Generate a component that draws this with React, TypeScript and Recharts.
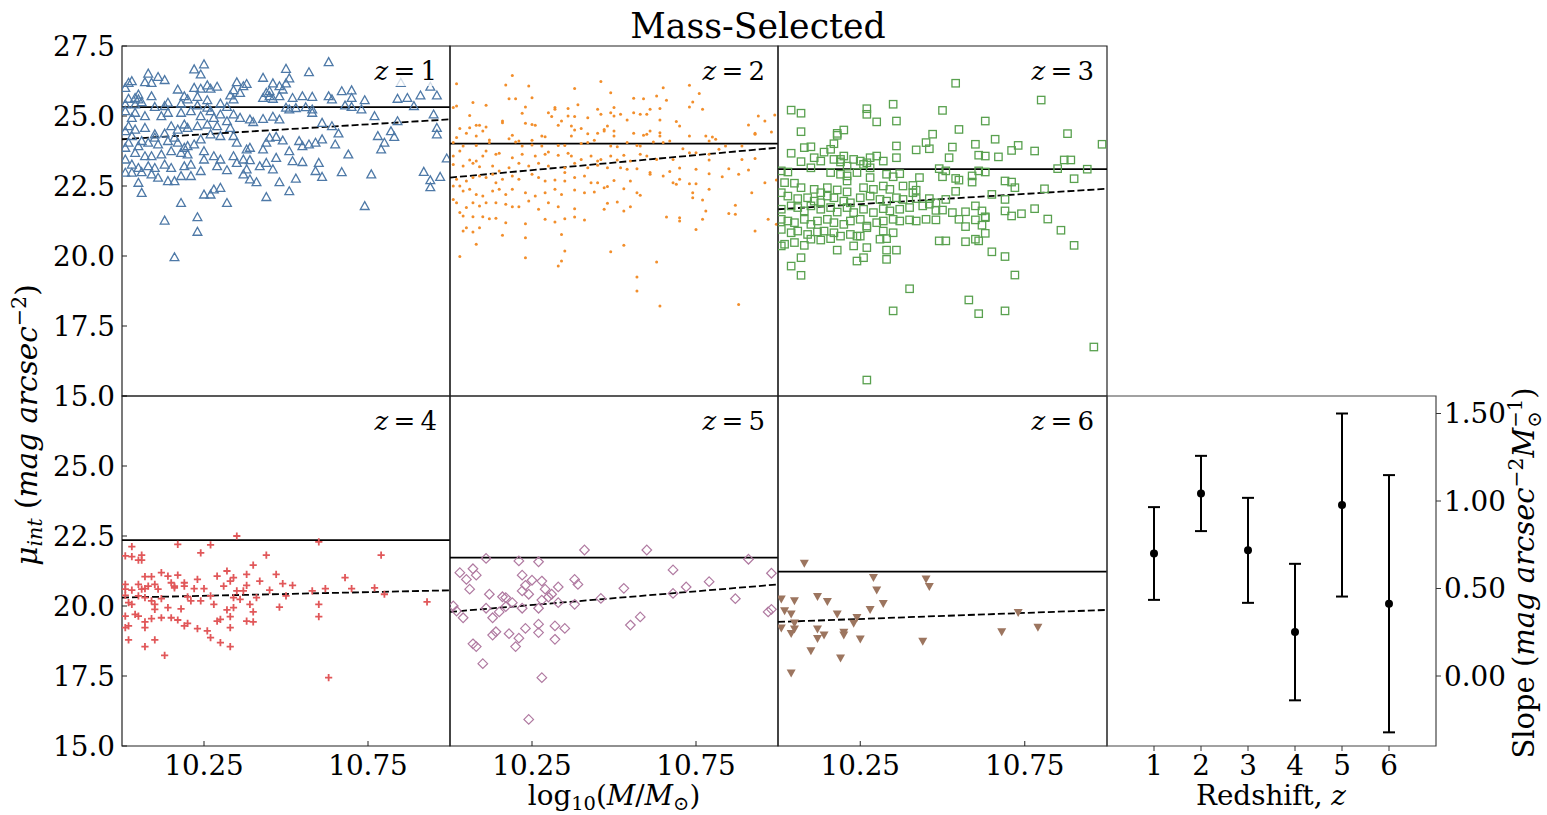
import React from "react";
import {
  ScatterChart,
  Scatter,
  XAxis,
  YAxis,
  ReferenceLine,
  ReferenceArea,
  ErrorBar,
} from "recharts";

const FONT = "'DejaVu Serif', serif";

// [log10(M/Msun), mu_int] per redshift bin
const z1Points = [
  [10.25,26.85],[10.63,26.93],[10.22,26.67],[10.24,26.49],[10.50,26.69],[10.57,26.57],[10.08,26.52],[10.11,26.40],[10.13,26.29],[10.43,26.37],
  [10.51,26.35],[10.07,26.21],[10.09,26.19],[10.03,26.25],[10.02,26.19],[10.35,26.21],[10.38,26.15],[10.37,26.07],[10.46,26.17],[10.48,26.07],
  [10.50,26.17],[10.85,26.19],[10.94,26.05],[10.01,26.01],[10.17,25.95],[10.22,26.01],[10.24,25.98],[10.26,26.10],[10.29,26.05],[10.27,25.98],
  [10.34,25.93],[10.36,25.83],[10.44,25.83],[10.45,25.89],[10.49,25.95],[10.67,25.89],[10.70,25.92],[10.09,25.71],[10.05,25.77],[10.04,25.65],
  [10.02,25.62],[10.05,25.60],[10.19,25.71],[10.23,25.69],[10.26,25.57],[10.20,25.60],[10.33,25.74],[10.34,25.60],[10.43,25.65],[10.45,25.71],
  [10.46,25.62],[10.48,25.71],[10.52,25.65],[10.55,25.71],[10.58,25.69],[10.63,25.71],[10.64,25.60],[10.70,25.65],[10.74,25.57],[10.84,25.62],
  [10.87,25.65],[10.91,25.74],[10.96,25.74],[10.01,25.42],[10.04,25.42],[10.06,25.50],[10.14,25.48],[10.13,25.36],[10.10,25.33],[10.18,25.45],
  [10.23,25.38],[10.26,25.30],[10.30,25.45],[10.32,25.33],[10.50,25.30],[10.51,25.24],[10.53,25.29],[10.56,25.32],[10.58,25.24],[10.68,25.38],
  [10.70,25.33],[10.73,25.24],[10.89,25.36],[10.01,25.18],[10.04,25.12],[10.07,25.00],[10.03,24.94],[10.12,25.00],[10.14,25.12],[10.18,25.12],
  [10.21,25.18],[10.24,25.00],[10.27,25.18],[10.28,24.94],[10.30,25.06],[10.34,25.06],[10.36,24.94],[10.39,24.88],[10.40,24.79],[10.43,24.90],
  [10.46,24.98],[10.48,24.88],[10.58,25.12],[10.61,24.76],[10.64,24.64],[10.66,24.38],[10.77,25.00],[10.84,24.82],[10.95,25.06],[10.96,24.58],
  [10.96,24.35],[10.82,24.46],[10.83,24.26],[10.80,24.05],[10.79,23.81],[10.78,24.29],[10.02,24.64],[10.04,24.52],[10.07,24.58],[10.10,24.35],
  [10.13,24.38],[10.15,24.64],[10.17,24.52],[10.19,24.70],[10.20,24.58],[10.23,24.64],[10.26,24.70],[10.29,24.64],[10.33,24.58],[10.34,24.29],
  [10.35,24.05],[10.24,24.17],[10.22,23.99],[10.20,23.93],[10.17,24.05],[10.14,24.11],[10.11,23.99],[10.08,24.05],[10.05,23.93],[10.02,24.05],
  [10.01,23.87],[10.04,23.69],[10.07,23.57],[10.09,23.57],[10.12,23.63],[10.15,23.75],[10.18,23.69],[10.20,23.63],[10.25,23.75],[10.28,23.57],
  [10.30,23.45],[10.34,23.57],[10.37,23.45],[10.39,23.87],[10.38,23.81],[10.43,23.81],[10.44,24.05],[10.45,24.23],[10.47,24.26],[10.49,24.13],
  [10.51,23.75],[10.54,24.11],[10.55,23.93],[10.57,23.99],[10.59,24.05],[10.61,24.17],[10.65,23.99],[10.69,23.63],[10.52,23.39],[10.55,23.36],
  [10.60,23.33],[10.59,23.04],[10.61,22.83],[10.67,23.00],[10.76,22.92],[10.92,23.01],[10.94,22.71],[10.94,22.46],[10.97,22.83],[10.99,23.49],
  [10.01,23.45],[10.03,23.27],[10.05,23.15],[10.08,23.21],[10.10,23.15],[10.13,23.27],[10.15,23.15],[10.19,23.21],[10.21,23.27],[10.24,23.04],
  [10.25,23.45],[10.29,23.21],[10.32,23.07],[10.35,23.33],[10.39,23.43],[10.38,23.10],[10.37,22.92],[10.42,23.21],[10.44,23.33],[10.46,23.10],
  [10.47,23.51],[10.01,22.98],[10.03,22.98],[10.06,23.00],[10.09,22.92],[10.11,22.80],[10.14,22.68],[10.16,22.68],[10.18,22.86],[10.21,22.86],
  [10.39,22.74],[10.41,22.64],[10.48,22.64],[10.53,22.77],[10.05,22.62],[10.06,22.26],[10.25,22.20],[10.27,22.20],[10.28,22.38],[10.30,22.44],
  [10.32,21.90],[10.44,22.11],[10.51,22.32],[10.74,21.79],[10.18,21.90],[10.13,21.27],[10.23,21.39],[10.23,20.87],[10.16,19.96],[10.01,24.46],
  [10.03,24.29],[10.06,24.11],[10.10,24.23],[10.16,24.23],[10.19,23.87],[10.27,24.35],[10.30,24.29],[10.32,24.82],
];

const z2Points = [
  [10.19,26.45],[10.17,26.11],[10.02,26.15],[10.46,26.23],[10.24,26.07],[10.38,25.98],[10.65,26.01],[10.73,26.10],[10.49,25.83],[10.56,25.63],
  [10.59,25.62],[10.63,25.71],[10.66,25.56],[10.76,25.80],[10.18,25.62],[10.20,25.62],[10.25,25.65],[10.07,25.48],[10.11,25.38],[10.02,25.36],
  [10.32,25.30],[10.32,25.24],[10.36,25.27],[10.39,25.40],[10.45,25.24],[10.50,25.30],[10.73,25.32],[10.74,25.50],[10.64,25.27],[10.77,25.24],
  [10.61,25.24],[10.23,25.32],[10.22,25.10],[10.06,25.02],[10.30,25.12],[10.31,24.98],[10.36,25.00],[10.38,24.98],[10.42,24.94],[10.46,25.06],
  [10.49,25.12],[10.50,25.00],[10.52,25.06],[10.54,24.86],[10.56,25.12],[10.58,25.06],[10.60,25.06],[10.64,24.86],[10.69,24.80],[10.94,25.00],
  [10.96,24.82],[10.99,25.04],[10.91,24.68],[10.16,24.82],[10.16,24.76],[10.23,24.74],[10.25,24.70],[10.26,24.67],[10.09,24.67],[10.08,24.67],
  [10.06,24.58],[10.03,24.55],[10.01,25.30],[10.11,24.61],[10.10,24.46],[10.05,24.38],[10.08,24.29],[10.02,24.23],[10.12,24.14],[10.18,24.19],
  [10.19,24.31],[10.21,24.11],[10.25,24.13],[10.28,24.29],[10.29,24.26],[10.33,24.67],[10.34,24.82],[10.37,24.64],[10.38,24.50],[10.40,24.55],
  [10.42,24.37],[10.45,24.38],[10.47,24.52],[10.47,24.46],[10.48,24.64],[10.50,24.46],[10.50,24.29],[10.56,24.38],[10.59,24.31],[10.60,24.35],
  [10.61,24.46],[10.64,24.40],[10.64,24.29],[10.67,24.11],[10.70,24.64],[10.73,24.29],[10.78,24.29],[10.79,24.11],[10.80,24.25],[10.81,24.17],
  [10.93,24.35],[10.93,24.38],[10.98,24.43],[10.01,24.05],[10.04,23.93],[10.08,23.95],[10.12,24.05],[10.20,24.07],[10.22,23.93],[10.25,23.96],
  [10.28,23.93],[10.33,23.95],[10.35,23.95],[10.37,24.29],[10.40,24.02],[10.42,24.05],[10.44,24.13],[10.49,23.93],[10.51,23.90],[10.54,24.05],
  [10.57,23.95],[10.58,23.93],[10.62,24.07],[10.65,24.05],[10.71,23.83],[10.73,23.69],[10.75,23.69],[10.79,23.63],[10.82,23.81],[10.84,23.93],
  [10.89,23.93],[10.01,23.57],[10.03,23.75],[10.06,23.43],[10.08,23.39],[10.10,23.57],[10.11,23.75],[10.14,23.63],[10.15,23.67],[10.19,23.51],
  [10.22,23.63],[10.26,23.57],[10.29,23.63],[10.30,23.71],[10.33,23.60],[10.36,23.67],[10.37,23.57],[10.40,23.45],[10.43,23.57],[10.45,23.39],
  [10.46,23.45],[10.49,23.57],[10.51,23.43],[10.53,23.60],[10.55,23.39],[10.58,23.63],[10.60,23.57],[10.63,23.45],[10.68,23.45],[10.79,23.43],
  [10.89,23.45],[10.93,23.48],[10.01,23.27],[10.04,23.21],[10.07,23.31],[10.09,23.19],[10.13,23.21],[10.15,23.04],[10.18,23.15],[10.21,23.31],
  [10.24,23.21],[10.27,23.31],[10.30,23.21],[10.35,23.15],[10.38,23.31],[10.42,23.15],[10.45,23.24],[10.48,23.15],[10.52,23.15],[10.54,23.10],
  [10.57,23.12],[10.61,22.98],[10.67,23.02],[10.70,23.14],[10.75,23.10],[10.79,22.94],[10.83,22.83],[10.85,23.12],[10.88,22.92],[10.91,23.07],
  [10.995,22.71],[10.96,22.62],[10.02,22.74],[10.03,22.50],[10.05,22.68],[10.07,22.80],[10.09,22.86],[10.11,22.80],[10.13,22.92],[10.14,22.62],
  [10.16,22.74],[10.19,22.86],[10.21,22.74],[10.25,22.92],[10.27,22.80],[10.29,22.68],[10.32,22.71],[10.35,22.68],[10.35,22.98],[10.38,22.80],
  [10.41,22.86],[10.43,22.62],[10.45,22.62],[10.50,22.70],[10.53,22.40],[10.55,22.68],[10.61,22.92],[10.65,22.86],[10.68,22.62],[10.69,22.56],
  [10.70,22.74],[10.73,22.58],[10.75,22.58],[10.79,22.38],[10.92,22.26],[10.01,22.50],[10.04,22.32],[10.06,22.38],[10.08,22.20],[10.10,22.14],
  [10.13,22.32],[10.15,22.38],[10.17,22.20],[10.19,22.38],[10.23,22.26],[10.26,22.14],[10.29,22.26],[10.32,22.38],[10.34,22.20],[10.38,22.36],
  [10.41,22.26],[10.44,22.29],[10.47,22.44],[10.48,22.48],[10.57,22.26],[10.58,22.17],[10.74,22.08],[10.77,22.00],[10.01,22.02],[10.02,21.90],
  [10.05,21.73],[10.07,21.90],[10.09,21.79],[10.11,21.90],[10.14,21.90],[10.17,21.85],[10.19,21.76],[10.21,21.76],[10.24,21.96],[10.27,21.67],
  [10.30,21.90],[10.33,21.76],[10.38,21.69],[10.47,21.67],[10.51,21.93],[10.48,21.88],[10.53,21.61],[10.55,21.76],[10.74,22.26],[10.78,21.61],
  [10.87,21.81],[10.85,21.52],[10.87,21.49],[10.03,21.55],[10.04,21.43],[10.07,21.40],[10.10,21.40],[10.12,21.33],[10.14,21.35],[10.17,21.19],
  [10.23,21.15],[10.29,21.31],[10.32,21.21],[10.35,21.33],[10.38,21.39],[10.41,21.29],[10.66,21.39],[10.70,21.37],[10.70,21.25],[10.77,21.31],
  [10.97,21.31],[10.995,21.13],[10.04,20.89],[10.05,21.01],[10.07,20.86],[10.09,21.01],[10.16,20.74],[10.23,20.65],[10.34,20.77],[10.75,20.95],
  [10.93,20.89],[10.08,20.42],[10.03,19.98],[10.23,19.94],[10.35,20.18],[10.34,19.82],[10.33,19.64],[10.49,20.15],[10.53,20.38],[10.57,19.25],
  [10.57,18.75],[10.63,19.79],[10.64,18.21],[10.88,18.27],
];

const z3Points = [
  [10.54,26.17],[10.80,25.57],[10.04,25.21],[10.07,25.10],[10.27,25.26],[10.27,25.06],[10.35,25.42],[10.50,25.20],[10.30,24.79],[10.36,24.82],
  [10.63,24.82],[10.07,24.44],[10.18,24.38],[10.20,24.50],[10.18,24.31],[10.55,24.52],[10.47,24.35],[10.88,24.37],[10.66,24.17],[10.45,24.05],
  [10.60,23.99],[10.53,23.89],[10.36,23.93],[10.17,24.01],[10.16,23.81],[10.14,23.71],[10.10,23.90],[10.08,23.87],[10.73,23.95],[10.71,23.77],
  [10.42,23.79],[10.46,23.83],[10.985,23.99],[10.78,23.75],[10.04,23.67],[10.07,23.37],[10.13,23.39],[10.11,23.51],[10.17,23.45],[10.19,23.45],
  [10.20,23.57],[10.23,23.45],[10.25,23.39],[10.27,23.33],[10.30,23.57],[10.28,23.51],[10.32,23.39],[10.36,23.51],[10.52,23.51],[10.61,23.60],
  [10.63,23.57],[10.67,23.54],[10.87,23.43],[10.89,23.43],[10.01,23.04],[10.03,23.00],[10.10,23.15],[10.19,23.36],[10.21,23.21],[10.26,23.27],
  [10.28,23.15],[10.16,22.98],[10.19,22.92],[10.21,22.86],[10.21,22.68],[10.24,22.98],[10.28,22.80],[10.33,22.92],[10.35,22.83],[10.37,22.94],
  [10.49,23.12],[10.50,22.83],[10.51,23.04],[10.54,22.77],[10.55,22.71],[10.59,22.86],[10.59,22.64],[10.61,23.04],[10.63,23.00],[10.69,22.68],
  [10.71,22.64],[10.72,22.44],[10.81,22.40],[10.85,23.12],[10.94,23.10],[10.90,22.76],[10.43,22.80],[10.41,22.52],[10.42,22.35],[10.54,22.31],
  [10.65,22.20],[10.69,22.02],[10.02,22.62],[10.05,22.60],[10.07,22.44],[10.11,22.38],[10.13,22.26],[10.15,22.44],[10.18,22.36],[10.21,22.29],
  [10.26,22.44],[10.29,22.38],[10.32,22.50],[10.34,22.38],[10.38,22.50],[10.41,22.26],[10.01,22.26],[10.03,22.14],[10.06,22.05],[10.09,22.08],
  [10.11,21.96],[10.13,21.90],[10.15,22.14],[10.17,22.08],[10.20,21.96],[10.22,21.90],[10.25,22.08],[10.28,22.14],[10.31,22.02],[10.33,21.96],
  [10.36,22.08],[10.38,22.02],[10.42,22.05],[10.46,22.05],[10.46,21.85],[10.48,21.90],[10.51,22.02],[10.01,21.67],[10.04,21.79],[10.06,21.73],
  [10.08,21.61],[10.10,21.79],[10.13,21.67],[10.16,21.73],[10.18,21.57],[10.21,21.73],[10.23,21.55],[10.26,21.67],[10.29,21.55],[10.32,21.69],
  [10.34,21.61],[10.37,21.67],[10.40,21.73],[10.44,21.79],[10.48,21.63],[10.50,21.64],[10.53,21.55],[10.57,21.58],[10.60,21.79],[10.62,21.61],
  [10.63,21.40],[10.69,21.61],[10.71,21.43],[10.74,21.51],[10.78,21.69],[10.82,21.32],[10.86,20.92],[10.90,20.38],[10.01,21.31],[10.03,21.25],
  [10.05,21.19],[10.08,21.31],[10.10,21.13],[10.12,21.25],[10.15,21.31],[10.17,21.19],[10.20,21.13],[10.22,21.25],[10.25,21.31],[10.27,21.07],
  [10.30,21.19],[10.32,21.25],[10.35,21.31],[10.37,21.25],[10.40,21.29],[10.42,21.25],[10.45,21.31],[10.48,21.29],[10.55,21.31],[10.57,21.05],
  [10.60,21.29],[10.63,21.37],[10.62,21.10],[10.01,20.95],[10.04,20.83],[10.06,20.89],[10.09,20.77],[10.12,20.86],[10.14,20.89],[10.17,20.83],
  [10.19,20.71],[10.22,20.77],[10.24,20.71],[10.27,21.01],[10.32,20.89],[10.35,20.83],[10.01,20.36],[10.02,20.42],[10.05,20.48],[10.08,20.38],
  [10.10,20.60],[10.13,20.57],[10.16,20.62],[10.18,20.21],[10.23,20.36],[10.25,20.71],[10.27,20.30],[10.31,20.60],[10.33,20.62],[10.36,20.21],
  [10.33,20.21],[10.49,20.54],[10.51,20.54],[10.57,20.51],[10.60,20.60],[10.61,20.54],[10.63,20.81],[10.65,20.15],[10.69,19.98],[10.72,19.32],
  [10.04,19.64],[10.07,19.94],[10.24,19.82],[10.26,19.94],[10.33,19.88],[10.07,19.31],[10.40,18.83],[10.58,18.43],[10.61,17.94],[10.69,18.04],
  [10.35,18.04],[10.96,16.75],[10.27,15.57],
];

const z4Points = [
  [10.35,22.50],[10.60,22.29],[10.17,22.20],[10.27,22.18],[10.03,22.12],[10.24,21.90],[10.44,21.82],[10.79,21.82],[10.01,21.79],[10.03,21.76],
  [10.06,21.82],[10.05,21.64],[10.06,21.64],[10.40,21.46],[10.12,21.19],[10.32,21.25],[10.29,21.07],[10.38,21.13],[10.47,21.13],[10.07,21.05],
  [10.09,21.05],[10.14,21.07],[10.17,21.10],[10.23,20.95],[10.34,21.01],[10.68,21.01],[10.42,20.89],[10.01,20.77],[10.05,20.77],[10.08,20.71],
  [10.10,20.77],[10.15,20.83],[10.16,20.71],[10.19,20.83],[10.19,20.71],[10.31,20.71],[10.33,20.89],[10.38,20.74],[10.49,20.80],[10.52,20.74],
  [10.01,20.60],[10.03,20.57],[10.06,20.60],[10.07,20.62],[10.11,20.60],[10.16,20.65],[10.22,20.62],[10.25,20.62],[10.35,20.54],[10.37,20.54],
  [10.45,20.57],[10.58,20.54],[10.62,20.62],[10.70,20.62],[10.77,20.65],[10.01,20.38],[10.05,20.36],[10.07,20.30],[10.09,20.18],[10.12,20.26],
  [10.20,20.33],[10.21,20.18],[10.24,20.18],[10.27,20.36],[10.34,20.30],[10.36,20.24],[10.41,20.30],[10.50,20.36],[10.80,20.42],[10.93,20.15],
  [10.02,20.12],[10.03,20.06],[10.10,20.06],[10.10,19.88],[10.14,19.94],[10.18,19.90],[10.28,20.06],[10.32,19.86],[10.34,19.94],[10.39,20.06],
  [10.40,19.79],[10.48,19.96],[10.60,20.06],[10.01,19.64],[10.04,19.70],[10.05,19.64],[10.07,19.43],[10.09,19.55],[10.12,19.58],[10.15,19.58],
  [10.17,19.50],[10.19,19.29],[10.20,19.38],[10.23,19.19],[10.29,19.46],[10.30,19.52],[10.33,19.62],[10.33,19.23],[10.38,19.46],[10.40,19.43],
  [10.60,19.62],[10.01,19.23],[10.02,19.29],[10.07,19.23],[10.26,19.11],[10.27,18.87],[10.02,18.79],[10.10,18.79],[10.30,18.69],[10.33,18.55],
  [10.07,18.55],[10.13,18.24],[10.63,17.44],
];

const z5Points = [
  [10.41,22.00],[10.60,22.00],[10.11,21.70],[10.21,21.61],[10.27,21.58],[10.91,21.67],[10.03,21.19],[10.07,21.33],[10.08,21.10],[10.05,20.95],
  [10.22,21.10],[10.25,20.92],[10.28,20.89],[10.68,21.29],[10.98,21.17],[10.79,20.87],[10.38,20.95],[10.39,20.77],[10.06,20.60],[10.23,20.74],
  [10.22,20.54],[10.24,20.42],[10.29,20.60],[10.33,20.68],[10.31,20.42],[10.30,20.32],[10.53,20.63],[10.72,20.68],[10.12,20.42],[10.16,20.33],
  [10.17,20.30],[10.19,20.12],[10.17,19.98],[10.28,20.21],[10.33,20.12],[10.46,20.27],[10.38,20.06],[10.68,20.45],[10.87,20.26],[10.01,20.00],
  [10.02,19.82],[10.04,19.58],[10.11,19.92],[10.15,19.79],[10.22,19.92],[10.27,19.92],[10.13,19.58],[10.97,19.79],[10.98,19.88],[10.27,19.35],
  [10.23,19.20],[10.27,19.05],[10.32,19.29],[10.35,19.20],[10.14,19.08],[10.13,18.96],[10.18,19.01],[10.21,18.85],[10.32,18.81],[10.55,19.32],
  [10.58,19.61],[10.07,18.65],[10.08,18.55],[10.20,18.55],[10.10,17.94],[10.28,17.44],[10.24,15.95],
];

const z6Points = [
  [10.08,21.52],[10.29,21.01],[10.45,20.95],[10.46,20.69],[10.30,20.56],[10.01,20.24],[10.05,20.18],[10.12,20.33],[10.15,20.15],[10.32,20.08],
  [10.02,19.82],[10.04,19.70],[10.28,19.86],[10.18,19.70],[10.24,19.58],[10.23,19.37],[10.73,19.76],[10.05,19.38],[10.01,19.20],[10.05,19.17],
  [10.04,19.01],[10.12,19.17],[10.14,18.95],[10.12,18.83],[10.20,19.05],[10.20,18.95],[10.25,18.81],[10.68,19.07],[10.79,19.23],[10.44,18.73],
  [10.10,18.39],[10.19,18.13],[10.04,17.60],
];

// per-bin mean (solid) and linear fit ends at log M = 10 and 11 (dashed)
const meanMu = [25.32, 24.01, 23.1, 22.35, 21.73, 21.23];
const fitAt10 = [24.17, 22.8, 21.67, 20.3, 19.79, 19.43];
const fitAt11 = [24.88, 23.87, 22.4, 20.56, 20.77, 19.86];

// slope vs redshift
const redshifts = [1, 2, 3, 4, 5, 6];
const slopes = [0.7, 1.043, 0.718, 0.251, 0.977, 0.413];
const slopeErrs = [0.265, 0.215, 0.3, 0.39, 0.523, 0.735];

const massTicks = [10.25, 10.75];
const muTicks = [15, 17.5, 20, 22.5, 25, 27.5];
const slopeTicks = [0, 0.5, 1, 1.5];

const W = 1547;
const H = 815;
const PX = [122, 450, 778, 1107];
const PWS = [328, 328, 329, 329];
const PY = [46, 396];
const PH = 350;
const YW = 80;
const XH = 60;
const MT = 20;
const MR = 10;

const tickText = { fontSize: 27.8, fill: "#000", fontFamily: FONT };

const triUp = (c: string) => (p: any) => (
  <path
    d={`M${p.cx},${p.cy - 4.3}L${p.cx + 4.4},${p.cy + 3.6}L${p.cx - 4.4},${p.cy + 3.6}Z`}
    fill="none"
    stroke={c}
    strokeWidth={1.3}
  />
);
const dot = (c: string) => (p: any) => <circle cx={p.cx} cy={p.cy} r={1.5} fill={c} />;
const square = (c: string) => (p: any) => (
  <rect x={p.cx - 3.7} y={p.cy - 3.7} width={7.4} height={7.4} fill="none" stroke={c} strokeWidth={1.3} />
);
const plus = (c: string) => (p: any) => (
  <path
    d={`M${p.cx - 3.6},${p.cy}H${p.cx + 3.6}M${p.cx},${p.cy - 3.6}V${p.cy + 3.6}`}
    stroke={c}
    strokeWidth={1.8}
  />
);
const diamond = (c: string) => (p: any) => (
  <path
    d={`M${p.cx},${p.cy - 4.8}L${p.cx + 4.8},${p.cy}L${p.cx},${p.cy + 4.8}L${p.cx - 4.8},${p.cy}Z`}
    fill="none"
    stroke={c}
    strokeWidth={1.2}
  />
);
const triDown = (c: string) => (p: any) => (
  <path
    d={`M${p.cx - 4.5},${p.cy - 3.8}L${p.cx + 4.5},${p.cy - 3.8}L${p.cx},${p.cy + 4.2}Z`}
    fill={c}
  />
);

const panels = [
  { pts: z1Points, shape: triUp("#4e79a7"), col: 0, row: 0 },
  { pts: z2Points, shape: dot("#f28e2b"), col: 1, row: 0 },
  { pts: z3Points, shape: square("#59a14f"), col: 2, row: 0 },
  { pts: z4Points, shape: plus("#e15759"), col: 0, row: 1 },
  { pts: z5Points, shape: diamond("#b07aa1"), col: 1, row: 1 },
  { pts: z6Points, shape: triDown("#9c755f"), col: 2, row: 1 },
];

function Panel({ i }: { i: number }) {
  const { pts, shape, col, row } = panels[i];
  const pw = PWS[col];
  const data = pts.map(([x, y]) => ({ x, y }));
  return (
    <div style={{ position: "absolute", left: PX[col] - YW, top: PY[row] - MT }}>
      <ScatterChart
        width={YW + pw + MR}
        height={MT + PH + XH}
        margin={{ top: MT, right: MR, left: 0, bottom: 0 }}
      >
        <XAxis
          type="number"
          dataKey="x"
          domain={[10, 11]}
          ticks={massTicks}
          interval={0}
          height={XH}
          allowDataOverflow
          axisLine={false}
          tickSize={-5}
          tickMargin={14}
          tickLine={{ stroke: "#222" }}
          tick={row === 1 ? tickText : false}
          tickFormatter={(v: number) => v.toFixed(2)}
        />
        <YAxis
          type="number"
          dataKey="y"
          domain={[15, 27.5]}
          ticks={muTicks}
          interval={0}
          width={YW}
          allowDataOverflow
          axisLine={false}
          tickSize={-5}
          tickMargin={12}
          tickLine={{ stroke: "#222" }}
          tick={col === 0 ? tickText : false}
          tickFormatter={(v: number) => (row === 1 && v > 26 ? "" : v.toFixed(1))}
        />
        <Scatter data={data} dataKey="y" shape={shape} isAnimationActive={false} />
        <ReferenceLine y={meanMu[i]} stroke="#000" strokeWidth={1.8} />
        <ReferenceLine
          segment={[
            { x: 10, y: fitAt10[i] },
            { x: 11, y: fitAt11[i] },
          ]}
          stroke="#000"
          strokeWidth={1.8}
          strokeDasharray="7 3"
        />
        <ReferenceArea x1={10} x2={11} y1={15} y2={27.5} fill="none" stroke="#222" strokeWidth={1.2} />
      </ScatterChart>
    </div>
  );
}

function SlopePanel() {
  const data = redshifts.map((z, i) => ({ z, s: slopes[i], err: slopeErrs[i] }));
  return (
    <div style={{ position: "absolute", left: PX[3] - 5, top: PY[1] - MT }}>
      <ScatterChart
        width={5 + PWS[3] + 110}
        height={MT + PH + XH}
        margin={{ top: MT, right: 0, left: 5, bottom: 0 }}
      >
        <XAxis
          type="number"
          dataKey="z"
          domain={[0, 7]}
          ticks={redshifts}
          interval={0}
          height={XH}
          axisLine={false}
          tickSize={5}
          tickMargin={4}
          tickLine={{ stroke: "#333" }}
          tick={tickText}
        />
        <YAxis
          type="number"
          dataKey="s"
          orientation="right"
          domain={[-0.4, 1.6]}
          ticks={slopeTicks}
          interval={0}
          width={110}
          axisLine={false}
          tickSize={5}
          tickMargin={3}
          tickLine={{ stroke: "#333" }}
          tick={tickText}
          tickFormatter={(v: number) => v.toFixed(2)}
        />
        <Scatter
          data={data}
          dataKey="s"
          isAnimationActive={false}
          shape={(p: any) => <circle cx={p.cx} cy={p.cy} r={4} fill="#000" />}
        >
          <ErrorBar dataKey="err" direction="y" width={6} stroke="#000" strokeWidth={2} isAnimationActive={false} />
        </Scatter>
        <ReferenceArea x1={0} x2={7} y1={-0.4} y2={1.6} fill="none" stroke="#444" strokeWidth={1.2} />
      </ScatterChart>
    </div>
  );
}

const subStyle = { fontSize: "0.7em", position: "relative" as const, top: "0.25em", lineHeight: 1 };
const supStyle = { fontSize: "0.7em", position: "relative" as const, top: "-0.55em", lineHeight: 1 };

export default function App() {
  return (
    <div
      style={{
        position: "absolute",
        left: 0,
        top: 0,
        width: W,
        height: H,
        background: "#fff",
        fontFamily: FONT,
        color: "#000",
      }}
    >
      {panels.map((_, i) => (
        <Panel key={i} i={i} />
      ))}
      <SlopePanel />

      {panels.map((p, i) => (
        <div
          key={"lab" + i}
          style={{
            position: "absolute",
            right: W - (PX[p.col] + PWS[p.col] - 9),
            top: PY[p.row] + 10,
            fontSize: 26,
            lineHeight: "26px",
            padding: "2px 4px",
            background: "rgba(255,255,255,0.75)",
            whiteSpace: "nowrap",
          }}
        >
          <i>z</i>
          {"\u2009=\u2009"}
          {i + 1}
        </div>
      ))}

      <div
        style={{
          position: "absolute",
          left: 558,
          top: 8.6,
          width: 400,
          textAlign: "center",
          fontSize: 34.7,
          lineHeight: "34.7px",
        }}
      >
        Mass-Selected
      </div>

      <div
        style={{
          position: "absolute",
          left: 614 - 200,
          top: 782,
          width: 400,
          textAlign: "center",
          fontSize: 27.8,
          lineHeight: "27.8px",
          whiteSpace: "nowrap",
        }}
      >
        log<span style={subStyle}>10</span>(<i>M</i>/<i>M</i>
        <span style={subStyle}>⊙</span>)
      </div>

      <div
        style={{
          position: "absolute",
          left: 1271 - 200,
          top: 782,
          width: 400,
          textAlign: "center",
          fontSize: 27.8,
          lineHeight: "27.8px",
        }}
      >
        Redshift, <i>z</i>
      </div>

      <div
        style={{
          position: "absolute",
          left: 27 - 250,
          top: 425 - 20,
          width: 500,
          height: 40,
          lineHeight: "40px",
          textAlign: "center",
          fontSize: 29.5,
          transform: "rotate(-90deg)",
          whiteSpace: "nowrap",
        }}
      >
        <i>μ</i>
        <span style={subStyle}>
          <i>int</i>
        </span>{" "}
        (<i>mag arcsec</i>
        <span style={supStyle}>−2</span>)
      </div>

      <div
        style={{
          position: "absolute",
          left: 1524 - 250,
          top: 573 - 20,
          width: 500,
          height: 40,
          lineHeight: "40px",
          textAlign: "center",
          fontSize: 29,
          transform: "rotate(-90deg)",
          whiteSpace: "nowrap",
        }}
      >
        Slope (<i>mag arcsec</i>
        <span style={supStyle}>−2</span>
        <i>M</i>
        <span
          style={{
            display: "inline-block",
            verticalAlign: "middle",
            fontSize: "0.68em",
            lineHeight: 0.95,
            textAlign: "left",
          }}
        >
          <span style={{ display: "block" }}>−1</span>
          <span style={{ display: "block" }}>⊙</span>
        </span>
        )
      </div>
    </div>
  );
}
